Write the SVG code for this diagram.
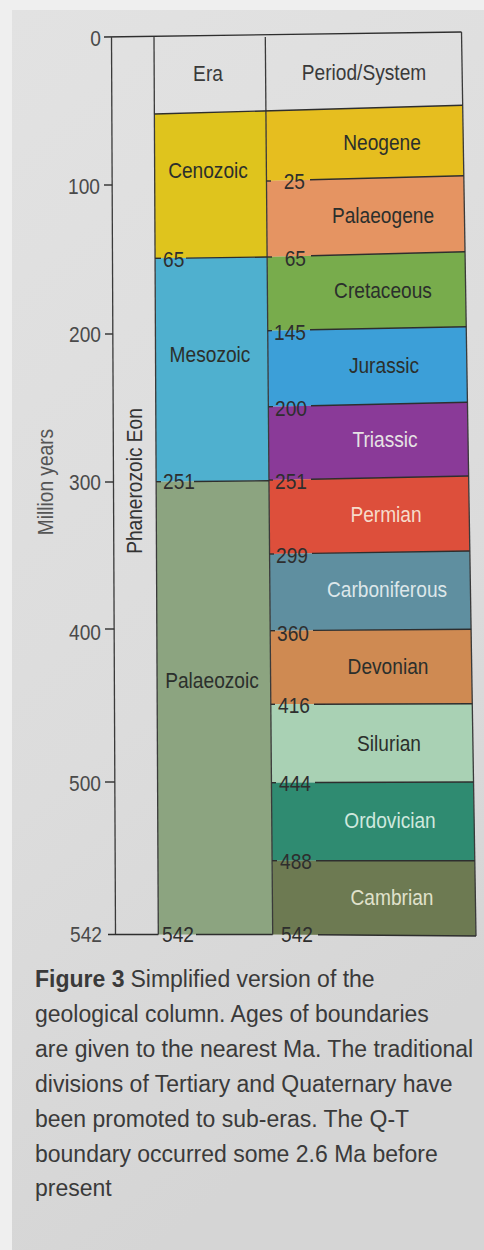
<svg xmlns="http://www.w3.org/2000/svg" width="484" height="1250" viewBox="0 0 484 1250">
<defs>
<linearGradient id="page" x1="0" y1="0" x2="0.3" y2="1">
<stop offset="0" stop-color="#e2e2e2"/>
<stop offset="0.6" stop-color="#dcdcdc"/>
<stop offset="1" stop-color="#d5d5d5"/>
</linearGradient>
<style>
.t{font-family:"Liberation Sans",Arial,sans-serif;font-size:22px}
.n{font-family:"Liberation Sans",Arial,sans-serif;font-size:22px;fill:#2e2e2e}
.ax{font-family:"Liberation Sans",Arial,sans-serif;font-size:22px;fill:#4a4a4a}
.dk{fill:#2b2f2c}
.lt{fill:#e6e2e4}
.ln{stroke:#2e2e2e;stroke-width:1.4;fill:none}
.vl{stroke:#3a3a3a;stroke-width:1.3;fill:none}
.cap{font-family:"Liberation Sans",Arial,sans-serif;font-size:23px;fill:#3a3a3a}
</style>
</defs>
<rect x="0" y="0" width="484" height="1250" fill="#efefef"/>
<rect x="12" y="10" width="472" height="1240" fill="url(#page)"/>

<g id="era-blocks">
<g id="cenozoic"><polygon points="154.4,114 265.9,111 267.1,257 155.1,258.3" fill="#dfc41d"/>
<text class="t dk" transform="translate(208,177.5) scale(0.87,1)" text-anchor="middle">Cenozoic</text></g>
<g id="mesozoic"><polygon points="155.1,258.3 267.1,257 269,480.7 156.1,481.7" fill="#4fb0cf"/>
<text class="t dk" transform="translate(210,362) scale(0.87,1)" text-anchor="middle">Mesozoic</text></g>
<g id="palaeozoic"><polygon points="156.1,481.7 269,480.7 272.7,934.5 158.3,934.5" fill="#8ca480"/>
<text class="t dk" transform="translate(212,688) scale(0.87,1)" text-anchor="middle">Palaeozoic</text></g>
</g>

<g id="periods">
<g id="neogene"><polygon points="265.9,111 462.7,105.3 463.8,175.7 266.5,181" fill="#e6be1f"/>
<text class="t dk" transform="translate(382,149.5) scale(0.87,1)" text-anchor="middle">Neogene</text></g>
<g id="palaeogene"><polygon points="266.5,181 463.8,175.7 465,251.7 267.1,257" fill="#e59462"/>
<text class="t dk" transform="translate(383,223) scale(0.87,1)" text-anchor="middle">Palaeogene</text></g>
<g id="cretaceous"><polygon points="267.1,257 465,251.7 466.2,326.7 267.7,330.7" fill="#78ac4c"/>
<text class="t dk" transform="translate(383,298) scale(0.87,1)" text-anchor="middle">Cretaceous</text></g>
<g id="jurassic"><polygon points="267.7,330.7 466.2,326.7 467.5,402.3 268.4,406.7" fill="#3c9fd8"/>
<text class="t dk" transform="translate(384,373) scale(0.87,1)" text-anchor="middle">Jurassic</text></g>
<g id="triassic"><polygon points="268.4,406.7 467.5,402.3 468.6,476 269,480" fill="#8a3a98"/>
<text class="t lt" transform="translate(385,447) scale(0.87,1)" text-anchor="middle">Triassic</text></g>
<g id="permian"><polygon points="269,480 468.6,476 469.8,551 269.6,554" fill="#dd4f3b"/>
<text class="t lt" transform="translate(386,522) scale(0.87,1)" text-anchor="middle" style="fill:#f6dccb">Permian</text></g>
<g id="carboniferous"><polygon points="269.6,554 469.8,551 471.1,629.3 270.2,630.7" fill="#5f8fa0"/>
<text class="t lt" transform="translate(387,597) scale(0.87,1)" text-anchor="middle" style="fill:#dde7ea">Carboniferous</text></g>
<g id="devonian"><polygon points="270.2,630.7 471.1,629.3 472.3,703.7 270.8,704.3" fill="#cf8a52"/>
<text class="t dk" transform="translate(388,674) scale(0.87,1)" text-anchor="middle">Devonian</text></g>
<g id="silurian"><polygon points="270.8,704.3 472.3,703.7 473.5,782 271.5,782.7" fill="#a9d1b4"/>
<text class="t dk" transform="translate(389,751) scale(0.87,1)" text-anchor="middle">Silurian</text></g>
<g id="ordovician"><polygon points="271.5,782.7 473.5,782 474.8,860.7 272.1,860.7" fill="#2f8b71"/>
<text class="t lt" transform="translate(390,828) scale(0.87,1)" text-anchor="middle" style="fill:#cfe8de">Ordovician</text></g>
<g id="cambrian"><polygon points="272.1,860.7 474.8,860.7 476,936 272.7,934.5" fill="#6d7a52"/>
<text class="t lt" transform="translate(392,905) scale(0.87,1)" text-anchor="middle" style="fill:#e0e2cc">Cambrian</text></g>
</g>

<g id="frame">
<polyline class="ln" points="104,37 461.5,32"/>
<polyline class="vl" points="111.5,37 115.5,934.5"/>
<polyline class="vl" points="154,37 158.3,934.5"/>
<polyline class="vl" points="265.3,37 272.7,934.5"/>
<polyline class="vl" points="461.5,32 476,936"/>
<polyline class="ln" points="154.4,114 462.7,105.3"/>
<text class="t" transform="translate(208,81) scale(0.87,1)" text-anchor="middle" fill="#3a3a3a">Era</text>
<text class="t" transform="translate(364,80) scale(0.87,1)" text-anchor="middle" fill="#3a3a3a">Period/System</text>
</g>

<g id="axis">
<g class="ln">
<line x1="104" y1="185" x2="112.2" y2="185"/>
<line x1="105" y1="334" x2="112.8" y2="334"/>
<line x1="105" y1="482" x2="113.5" y2="482"/>
<line x1="105" y1="629" x2="114.1" y2="629"/>
<line x1="105" y1="782" x2="114.8" y2="782"/>
</g>
<text class="ax" transform="translate(101,45.5) scale(0.87,1)" text-anchor="end">0</text>
<text class="ax" transform="translate(100,193.5) scale(0.87,1)" text-anchor="end">100</text>
<text class="ax" transform="translate(101,342) scale(0.87,1)" text-anchor="end">200</text>
<text class="ax" transform="translate(101,490) scale(0.87,1)" text-anchor="end">300</text>
<text class="ax" transform="translate(101,640) scale(0.87,1)" text-anchor="end">400</text>
<text class="ax" transform="translate(101,791) scale(0.87,1)" text-anchor="end">500</text>
<text class="ax" transform="translate(102,942) scale(0.87,1)" text-anchor="end">542</text>
<text class="t" transform="translate(53,482) rotate(-90) scale(0.87,1)" text-anchor="middle" fill="#555555">Million years</text>
</g>

<g id="eon">
<text class="t" transform="translate(142,481) rotate(-90) scale(0.87,1)" text-anchor="middle" fill="#333333">Phanerozoic Eon</text>
</g>

<g id="boundaries" class="ln">
<line x1="155.1" y1="258.3" x2="161" y2="258.3"/>
<line x1="186" y1="258.1" x2="267.1" y2="257"/>
<line x1="156.1" y1="481.7" x2="161" y2="481.7"/>
<line x1="194" y1="481.5" x2="269" y2="480.7"/>
<line x1="108" y1="934.5" x2="158.3" y2="934.5"/>
<line x1="196" y1="934.5" x2="272.7" y2="934.5"/>
<line x1="266.5" y1="181" x2="271" y2="181"/>
<line x1="310" y1="179.8" x2="463.8" y2="175.7"/>
<line x1="267.1" y1="257" x2="272" y2="257"/>
<line x1="311" y1="255.8" x2="465" y2="251.7"/>
<line x1="267.7" y1="330.7" x2="272" y2="330.6"/>
<line x1="310" y1="329.8" x2="466.2" y2="326.7"/>
<line x1="268.4" y1="406.7" x2="273" y2="406.6"/>
<line x1="311" y1="405.7" x2="467.5" y2="402.3"/>
<line x1="269" y1="480" x2="273" y2="480"/>
<line x1="311" y1="479.2" x2="468.6" y2="476"/>
<line x1="269.6" y1="554" x2="274" y2="554"/>
<line x1="312" y1="553.4" x2="469.8" y2="551"/>
<line x1="270.2" y1="630.7" x2="275" y2="630.7"/>
<line x1="313" y1="630.4" x2="471.1" y2="629.3"/>
<line x1="270.8" y1="704.3" x2="275" y2="704.3"/>
<line x1="314" y1="704.2" x2="472.3" y2="703.7"/>
<line x1="271.5" y1="782.7" x2="276" y2="782.7"/>
<line x1="315" y1="782.5" x2="473.5" y2="782"/>
<line x1="272.1" y1="860.7" x2="277" y2="860.7"/>
<line x1="316" y1="860.7" x2="474.8" y2="860.7"/>
<line x1="318" y1="934.7" x2="476" y2="936"/>
</g>

<g id="boundary-labels">
<text class="n" transform="translate(163,266.5) scale(0.87,1)">65</text>
<text class="n" transform="translate(163,489) scale(0.87,1)">251</text>
<text class="n" transform="translate(162,942) scale(0.87,1)">542</text>
<text class="n" transform="translate(305,189) scale(0.87,1)" text-anchor="end">25</text>
<text class="n" transform="translate(306,265.5) scale(0.87,1)" text-anchor="end">65</text>
<text class="n" transform="translate(306,340) scale(0.87,1)" text-anchor="end">145</text>
<text class="n" transform="translate(307,415.5) scale(0.87,1)" text-anchor="end">200</text>
<text class="n" transform="translate(307,489) scale(0.87,1)" text-anchor="end">251</text>
<text class="n" transform="translate(308,563) scale(0.87,1)" text-anchor="end">299</text>
<text class="n" transform="translate(309,640.5) scale(0.87,1)" text-anchor="end">360</text>
<text class="n" transform="translate(310,712.5) scale(0.87,1)" text-anchor="end">416</text>
<text class="n" transform="translate(311,791) scale(0.87,1)" text-anchor="end">444</text>
<text class="n" transform="translate(312,869) scale(0.87,1)" text-anchor="end">488</text>
<text class="n" transform="translate(313,942) scale(0.87,1)" text-anchor="end">542</text>
</g>

<g id="caption">
<text class="cap" x="35" y="987"><tspan font-weight="bold">Figure 3</tspan><tspan dx="6">Simplified version of the</tspan></text>
<text class="cap" x="35" y="1022">geological column. Ages of boundaries</text>
<text class="cap" x="35" y="1057">are given to the nearest Ma. The traditional</text>
<text class="cap" x="35" y="1092">divisions of Tertiary and Quaternary have</text>
<text class="cap" x="35" y="1127">been promoted to sub-eras. The Q-T</text>
<text class="cap" x="35" y="1162">boundary occurred some 2.6 Ma before</text>
<text class="cap" x="35" y="1196">present</text>
</g>
</svg>
